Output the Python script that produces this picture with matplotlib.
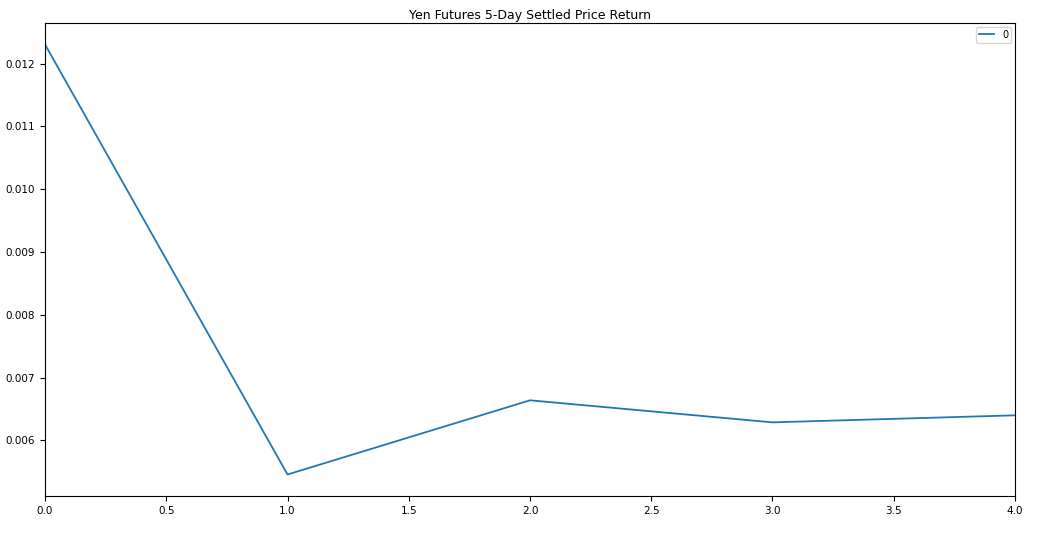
import matplotlib
matplotlib.use('Agg')
import matplotlib.pyplot as plt
import pandas as pd

# Rendimientos a 5 dias
dias = [0, 1, 2, 3, 4]
rendimiento = [0.012303, 0.005457, 0.006638, 0.006287, 0.006399]

serie = pd.DataFrame({0: rendimiento}, index=dias)

plt.rcParams['font.size'] = 7.5

fig = plt.figure(figsize=(10.38, 5.39), dpi=100)
ax = fig.add_axes([0.0434, 0.0798, 0.9344, 0.8775])
serie.plot(ax=ax, color='#1f77b4', linewidth=1.3)
ax.set_title("Yen Futures 5-Day Settled Price Return", fontsize=9, pad=3)
ax.legend(loc='upper right', fontsize=7, handlelength=1.6,
          borderpad=0.3, borderaxespad=0.4)
ax.set_xlim(0, 4)

fig.savefig('out.png', dpi=100)
